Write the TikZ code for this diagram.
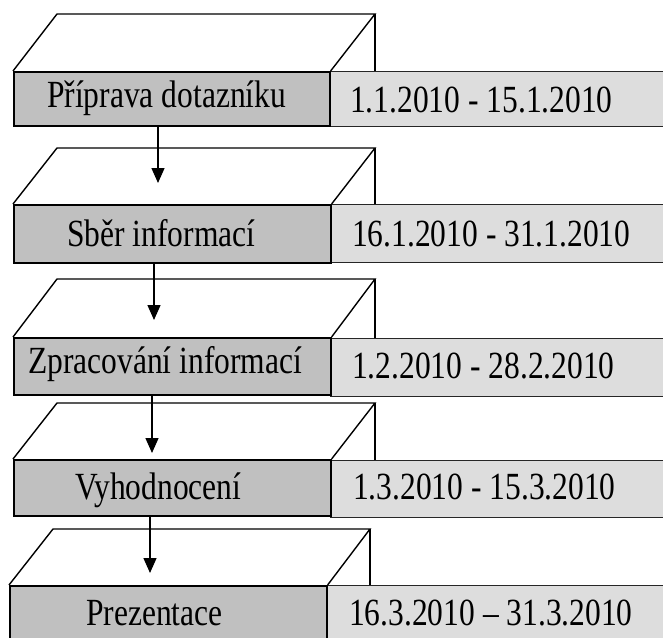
\documentclass[tikz,border=0pt]{standalone}
\usepackage{fontspec}
\usepackage{graphicx}
\setmainfont{Liberation Serif}
\usetikzlibrary{arrows.meta}
\definecolor{phasegray}{RGB}{192,192,192}
\definecolor{dategray}{RGB}{221,221,221}
\newcommand\tall[1]{\scalebox{1}[1.22]{#1}}
\tikzset{
  phasebox/.style={draw=black, line width=1.6pt, fill=phasegray, anchor=north west, inner sep=0pt},
  datebox/.style={draw=black!85, line width=1.3pt, fill=dategray, anchor=north west, inner sep=0pt},
  face/.style={draw=black, line width=1.4pt, line join=miter},
  label/.style={inner sep=0pt, anchor=base west, font=\fontsize{31.5}{36}\selectfont},
  flow/.style={draw=black, line width=1.4pt, -{Triangle[width=13pt,length=15pt]}}
}
\begin{document}
\begin{tikzpicture}[x=1pt, y=-1pt]
\useasboundingbox (0,0) rectangle (663,637);
\clip (0,0) rectangle (663,637);

% row 1
\node[datebox, minimum width=345pt, minimum height=55pt] (d1) at (329,71) {};
\node[phasebox, minimum width=316pt, minimum height=54pt] (p1) at (13,71) {};
\coordinate (b1) at (375,14);
\draw[face] (p1.north west) -- (57,14) -- (b1) -- (p1.north east);
\draw[face] (b1) -- (b1 |- d1.north);
\node[label] (t1) at (47,107) {\tall{Příprava dotazníku}};
\node[label] (e1) at (350,112) {\tall{1.1.2010 - 15.1.2010}};

% row 2
\node[datebox, minimum width=345pt, minimum height=58pt] (d2) at (330,204) {};
\node[phasebox, minimum width=317pt, minimum height=58pt] (p2) at (13,204) {};
\coordinate (b2) at (375,148);
\draw[face] (p2.north west) -- (57,148) -- (b2) -- (p2.north east);
\draw[face] (b2) -- (b2 |- d2.north);
\node[label] (t2) at (67,246) {\tall{Sběr informací}};
\node[label] (e2) at (352,246) {\tall{16.1.2010 - 31.1.2010}};

% row 3
\node[datebox, minimum width=345pt, minimum height=58pt] (d3) at (330,338) {};
\node[phasebox, minimum width=317pt, minimum height=57pt] (p3) at (13,337) {};
\coordinate (b3) at (375,279);
\draw[face] (p3.north west) -- (57,279) -- (b3) -- (p3.north east);
\draw[face] (b3) -- (b3 |- d3.north);
\node[label] (t3) at (28,373) {\tall{Zpracování informací}};
\node[label] (e3) at (352,378) {\tall{1.2.2010 - 28.2.2010}};

% row 4
\node[datebox, minimum width=345pt, minimum height=57pt] (d4) at (330,460) {};
\node[phasebox, minimum width=317pt, minimum height=56pt] (p4) at (13,459) {};
\coordinate (b4) at (375,403);
\draw[face] (p4.north west) -- (57,403) -- (b4) -- (p4.north east);
\draw[face] (b4) -- (b4 |- d4.north);
\node[label] (t4) at (75,499) {\tall{Vyhodnocení}};
\node[label] (e4) at (353,499) {\tall{1.3.2010 - 15.3.2010}};

% row 5
\node[datebox, minimum width=345pt, minimum height=60pt] (d5) at (326,585) {};
\node[phasebox, minimum width=317pt, minimum height=60pt] (p5) at (9,585) {};
\coordinate (b5) at (370,529);
\draw[face] (p5.north west) -- (53,529) -- (b5) -- (p5.north east);
\draw[face] (b5) -- (b5 |- d5.north);
\node[label] (t5) at (86,625) {\tall{Prezentace}};
\node[label] (e5) at (349,625) {\tall{16.3.2010 – 31.3.2010}};

% arrows between phases
\coordinate (a2) at (158,183);
\coordinate (a3) at (154,320);
\coordinate (a4) at (152,453);
\coordinate (a5) at (150,573);
\draw[flow] (p1.south -| a2) -- (a2);
\draw[flow] (p2.south -| a3) -- (a3);
\draw[flow] (p3.south -| a4) -- (a4);
\draw[flow] (p4.south -| a5) -- (a5);
\end{tikzpicture}
\end{document}
